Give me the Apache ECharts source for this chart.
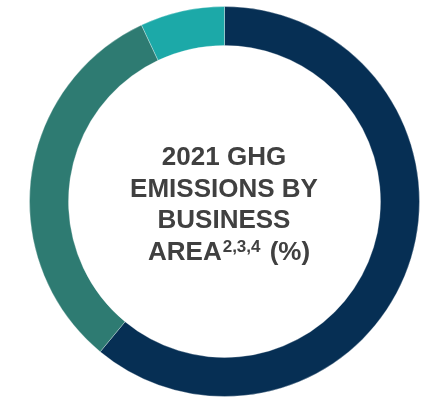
<!DOCTYPE html>
<html>
<head>
<meta charset="utf-8">
<script src="https://cdn.jsdelivr.net/npm/echarts@6/dist/echarts.min.js"></script>
<style>html,body{margin:0;padding:0;background:#fff}#c{width:426px;height:400px}</style>
</head>
<body>
<div id="c"></div>
<script>
const categories = ['Area A', 'Area B', 'Area C'];
const values = [61, 32, 7];
const colors = ['#062F54', '#2E7B72', '#1CA9A8'];
const titleLines = ['2021 GHG', 'EMISSIONS BY', 'BUSINESS'];
const lastLine = 'AREA';
const superscript = '2,3,4';
const suffix = ' (%)';

const FONT = 'Liberation Sans, Arial, sans-serif';
const chart = echarts.init(document.getElementById('c'), null, {renderer: 'canvas'});
chart.setOption({
  animation: false,
  series: [{
    type: 'pie',
    center: [224.5, 201.5],
    radius: [156, 195],
    startAngle: 90,
    clockwise: true,
    label: {show: false},
    labelLine: {show: false},
    silent: true,
    itemStyle: {borderColor: 'rgba(255,255,255,0.6)', borderWidth: 0.5},
    data: categories.map((c, i) => ({name: c, value: values[i], itemStyle: {color: colors[i]}}))
  }],
  graphic: [{
    type: 'text',
    x: 224,
    y: 142,
    style: {
      text: titleLines.join('\n'),
      align: 'center',
      verticalAlign: 'top',
      fontFamily: FONT, fontWeight: 'bold', fontSize: 26, lineHeight: 31.7, fill: '#404040'
    }
  }, {
    type: 'text',
    x: 148,
    y: 142 + 3 * 31.7,
    style: {
      text: '{m|' + lastLine + '}{s|' + superscript + '}{m|' + suffix + '}',
      align: 'left',
      verticalAlign: 'top',
      rich: {
        m: {fontFamily: FONT, fontWeight: 'bold', fontSize: 26, lineHeight: 31.7, fill: '#404040'},
        s: {fontFamily: FONT, fontWeight: 'bold', fontSize: 17, lineHeight: 31.7, fill: '#404040', verticalAlign: 'top', padding: [2, 2, 0, 1]}
      }
    }
  }]
});
</script>
</body>
</html>
